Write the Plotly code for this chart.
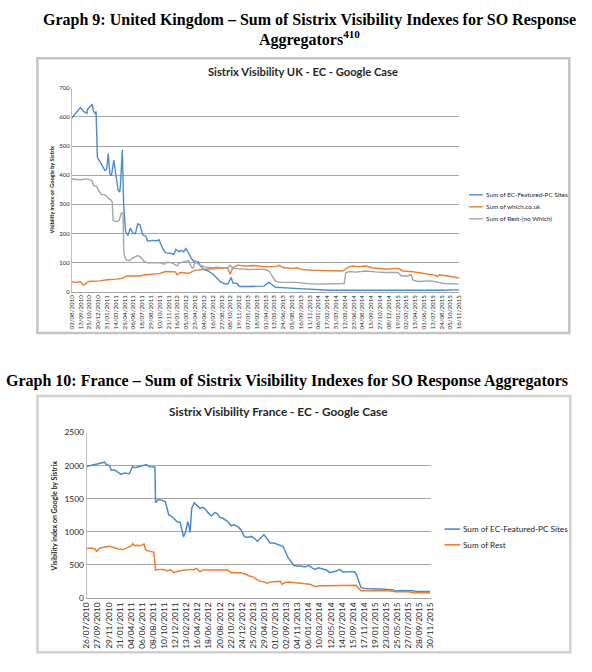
import plotly.graph_objects as go

W, H = 592, 672

# ---------------- data: United Kingdom ----------------
uk_tick_labels = ["02/08/2010", "13/09/2010", "25/10/2010", "20/12/2010", "31/01/2011", "14/03/2011",
                  "25/04/2011", "06/06/2011", "18/07/2011", "29/08/2011", "10/10/2011", "21/11/2011",
                  "16/01/2012", "05/03/2012", "23/04/2012", "04/06/2012", "16/07/2012", "27/08/2012",
                  "08/10/2012", "19/11/2012", "07/01/2013", "18/02/2013", "01/04/2013", "13/05/2013",
                  "24/06/2013", "05/08/2013", "16/09/2013", "11/11/2013", "06/01/2014", "17/02/2014",
                  "31/03/2014", "12/05/2014", "23/06/2014", "04/08/2014", "15/09/2014", "27/10/2014",
                  "08/12/2014", "19/01/2015", "02/03/2015", "13/04/2015", "01/06/2015", "13/07/2015",
                  "24/08/2015", "05/10/2015", "16/11/2015"]
uk_label_step = 6  # categories between labels

uk_ec_x = [0, 5.8, 8, 10.3, 10.7, 13, 13.9, 14.7, 15.9, 16.5, 17.4, 18.1, 20.3, 22.6, 23.7, 24.8, 25.9, 27,
           28.6, 29.9, 31.5, 32.6, 33.1, 34.4, 35.3, 36.6, 38.2, 39.8, 41.6, 43.3, 44.9, 46.5, 48.3, 50.5,
           51.6, 55, 58.3, 59.4, 61.7, 63.9, 67.2, 69.5, 71, 72.8, 74.6, 76.2, 77.7, 79.5, 81.8, 84, 86.2,
           87.3, 89.6, 92.9, 96.3, 99.6, 100.8, 103.7, 106.3, 108.6, 109.7, 112.6, 114.2, 122, 130.9, 134.3,
           136.5, 138.8, 148.8, 157.7, 166.7, 175.6, 190, 200, 210, 225, 240, 250, 264]
uk_ec_y = [596, 632, 619, 612, 626, 640, 643, 620, 612, 618, 462, 455, 438, 416, 420, 474, 404, 398, 452,
           410, 348, 342, 362, 487, 300, 207, 193, 218, 201, 199, 233, 229, 195, 190, 173, 176, 175, 178,
           150, 133, 132, 128, 145, 137, 141, 137, 148, 133, 111, 99, 103, 91, 77, 71, 60, 43, 35, 28, 26,
           49, 30, 28, 18, 18, 19, 32, 24, 15, 12, 10, 6, 5, 5, 6, 5, 5, 4, 5, 6]

uk_which_x = [0, 3.6, 5.8, 7.6, 9.2, 11.4, 19.2, 23.7, 30.4, 34.8, 37.1, 46, 50.5, 59.4, 63.9, 70.6, 71.7,
              73.9, 79.5, 84, 90.7, 99.6, 106.3, 107.9, 109.7, 113, 117.5, 124.2, 130.9, 139.8, 141, 144.3,
              151, 153.3, 157.7, 166.7, 177.8, 184.5, 189, 191.2, 195.7, 200.1, 204.6, 213.5, 222.4, 225.7,
              231.3, 240.3, 248.1, 249.2, 250.3, 258.1, 264]
uk_which_y = [34, 32, 34, 23, 26, 35, 37, 41, 43, 46, 54, 54, 58, 62, 69, 68, 58, 66, 63, 73, 77, 80, 82,
              60, 82, 91, 88, 90, 86, 86, 91, 82, 80, 82, 75, 73, 73, 71, 85, 88, 86, 88, 82, 77, 80, 71,
              69, 62, 56, 51, 58, 52, 47]

uk_rest_x = [0, 5.8, 10.3, 13.6, 14.7, 17, 18.1, 20.3, 22.6, 24.8, 26.4, 27.5, 28.1, 30.4, 32.2, 33.7, 34.8,
             35.5, 37.1, 39.3, 41.6, 44.9, 47.1, 49.4, 51.6, 55, 60.5, 62.8, 65, 68.4, 71.7, 72.8, 77.3,
             79.5, 81.8, 82.9, 84, 85.6, 87.3, 90.7, 95.2, 99.6, 104.1, 106.3, 107.9, 109.7, 113, 119.7,
             130.9, 134.3, 136.5, 138.8, 142.1, 153.3, 160, 166.7, 177.8, 185.6, 186.7, 189, 193.4, 200.1,
             206.8, 213.5, 222.4, 224.6, 229.1, 231.3, 232.4, 235.7, 244.8, 249.2, 253.7, 264]
uk_rest_y = [387, 384, 387, 382, 365, 361, 348, 333, 333, 320, 316, 308, 246, 240, 244, 269, 272, 128, 108,
             107, 116, 124, 118, 103, 99, 99, 99, 94, 101, 99, 88, 97, 105, 107, 82, 82, 108, 97, 91, 85,
             82, 84, 80, 82, 91, 80, 79, 76, 77, 71, 54, 35, 32, 32, 28, 26, 27, 28, 65, 69, 67, 71, 68,
             66, 66, 54, 54, 58, 40, 35, 37, 32, 28, 26]

# ---------------- data: France ----------------
fr_tick_labels = ["26/07/2010", "27/09/2010", "29/11/2010", "31/01/2011", "04/04/2011", "06/06/2011",
                  "08/08/2011", "10/10/2011", "12/12/2011", "13/02/2012", "16/04/2012", "18/06/2012",
                  "20/08/2012", "22/10/2012", "24/12/2012", "25/02/2013", "29/04/2013", "01/07/2013",
                  "02/09/2013", "04/11/2013", "06/01/2014", "10/03/2014", "12/05/2014", "14/07/2014",
                  "15/09/2014", "17/11/2014", "19/01/2015", "23/03/2015", "25/05/2015", "27/07/2015",
                  "28/09/2015", "30/11/2015"]
fr_label_step = 9

fr_ec_x = [0, 4, 6.7, 10.7, 13.3, 14.6, 16, 18.6, 20, 22.6, 25.3, 28, 30.6, 34.6, 37.3, 39.4, 43.9, 46.6,
           48.5, 50.6, 53.3, 55.4, 55.9, 58.1, 60.7, 62.6, 63.9, 66.6, 69.2, 71.4, 73.2, 75.9, 78.6, 80.4,
           82, 83.1, 83.9, 85.2, 87.3, 89.2, 91.9, 94.5, 96.4, 98.5, 101.2, 103.9, 106, 107.9, 110.5, 114.5,
           117.2, 119.8, 123, 125.2, 127.8, 130.5, 133.2, 135.8, 138.5, 141.1, 143.8, 146.5, 148.6, 151.8,
           155.8, 159.2, 161.1, 163, 165.1, 167.9, 170.4, 173.2, 177.2, 179.9, 182.5, 185.2, 187.9, 191.9,
           194.5, 197.2, 199.9, 202.6, 205.2, 207.9, 213.2, 217.2, 218.5, 219.9, 222.5, 225.2, 229.2, 234.5,
           242.5, 245.1, 247.8, 250.5, 255.8, 261.1, 265.1, 266.5, 271.8, 278.5]
fr_ec_y = [1987, 2002, 2017, 2027, 2037, 2052, 2017, 2002, 1927, 1937, 1902, 1867, 1887, 1877, 1987, 1967,
           1990, 2002, 2017, 1985, 1985, 1977, 1439, 1489, 1479, 1470, 1454, 1255, 1230, 1190, 1155, 1140,
           921, 1006, 1155, 1081, 991, 1355, 1439, 1404, 1355, 1370, 1340, 1290, 1240, 1290, 1275, 1220,
           1205, 1155, 1091, 1106, 1071, 1031, 931, 916, 931, 906, 857, 906, 956, 891, 832, 832, 807, 782,
           707, 622, 570, 493, 483, 483, 468, 493, 458, 433, 458, 443, 423, 383, 393, 408, 433, 393, 398,
           398, 368, 284, 159, 144, 144, 134, 134, 124, 130, 105, 115, 110, 112, 100, 105, 100]

fr_rest_x = [0, 4, 6.7, 8, 10.7, 16, 18.6, 21.3, 25.3, 29.3, 33.3, 36, 37.3, 38.6, 41.3, 43.1, 45.3, 46.6,
             47.9, 50.6, 52.7, 54.6, 55.9, 58.6, 62.6, 65.2, 67.9, 70.6, 74.6, 78.6, 81.2, 83.9, 86.5, 89.2,
             91.9, 94.5, 98.5, 103.9, 109.2, 114.5, 117.2, 119.8, 122.5, 125.2, 129.2, 131.8, 134.5, 137.1,
             139.8, 143.8, 146.5, 149.1, 154.5, 157.1, 158.4, 161.1, 163.8, 167.8, 173.2, 181.2, 185.2,
             189.2, 194.5, 199.9, 202.6, 207.9, 213.2, 218.5, 222.5, 234.5, 245.1, 250.5, 261.1, 266.5,
             271.8, 278.5]
fr_rest_y = [747, 757, 742, 707, 757, 772, 782, 767, 742, 732, 757, 782, 822, 792, 797, 790, 807, 817, 722,
             707, 697, 692, 423, 433, 433, 408, 430, 383, 408, 418, 423, 433, 428, 448, 398, 423, 423, 420,
             425, 425, 383, 383, 393, 383, 359, 334, 324, 294, 259, 244, 224, 244, 244, 254, 209, 234, 244,
             234, 224, 209, 174, 184, 184, 184, 194, 184, 194, 194, 110, 110, 110, 95, 95, 75, 85, 75]

# ---------------- styling ----------------
BLUE, ORANGE, GREY = "#4A8BD2", "#ED7D31", "#A5A5A5"
CHART_FONT = "Lato, 'Open Sans', sans-serif"
SERIF = "'Liberation Serif', 'Times New Roman', serif"
TXT = "#262626"


def xp(px):
    return px / W


def yp(py):
    return 1 - py / H


fig = go.Figure()

uk_series = [("Sum of EC-Featured-PC Sites", uk_ec_x, uk_ec_y, BLUE),
             ("Sum of which.co.uk", uk_which_x, uk_which_y, ORANGE),
             ("Sum of Rest-(no Which)", uk_rest_x, uk_rest_y, GREY)]
for name, xs, ys, col in uk_series:
    fig.add_trace(go.Scatter(x=xs, y=ys, name=name, mode="lines", xaxis="x", yaxis="y",
                             line=dict(color=col, width=1.4), showlegend=False))

fr_series = [("Sum of EC-Featured-PC Sites", fr_ec_x, fr_ec_y, BLUE),
             ("Sum of Rest", fr_rest_x, fr_rest_y, ORANGE)]
for name, xs, ys, col in fr_series:
    fig.add_trace(go.Scatter(x=xs, y=ys, name=name, mode="lines", xaxis="x2", yaxis="y2",
                             line=dict(color=col, width=1.5), showlegend=False))

GRID = "#A6A6A6"
common_x = dict(showgrid=False, zeroline=False, ticks="", showline=True, linecolor=GRID, linewidth=1,
                tickangle=-90, fixedrange=True)
common_y = dict(showgrid=True, gridcolor=GRID, gridwidth=1, zeroline=False, ticks="", showline=True,
                linecolor="#BFBFBF", linewidth=1, fixedrange=True)

fig.update_layout(
    width=W, height=H,
    margin=dict(l=0, r=0, t=0, b=0),
    paper_bgcolor="white", plot_bgcolor="white",
    font=dict(family=CHART_FONT, color=TXT),
    hovermode=False,
    xaxis=dict(common_x, domain=[xp(68), xp(462)], anchor="y", range=[0, (len(uk_tick_labels) - 1) * uk_label_step],
               tickmode="array", tickvals=[i * uk_label_step for i in range(len(uk_tick_labels))],
               ticktext=uk_tick_labels, tickfont=dict(size=6.2, family=CHART_FONT, color=TXT)),
    yaxis=dict(common_y, domain=[yp(291), yp(84)], anchor="x", range=[0, 700], dtick=100,
               tickfont=dict(size=6, family=CHART_FONT, color=TXT)),
    xaxis2=dict(common_x, domain=[xp(83), xp(433)], anchor="y2", range=[0, (len(fr_tick_labels) - 1) * fr_label_step],
                tickmode="array", tickvals=[i * fr_label_step for i in range(len(fr_tick_labels))],
                ticktext=fr_tick_labels, tickfont=dict(size=8.4, family=CHART_FONT, color=TXT)),
    yaxis2=dict(common_y, domain=[yp(602), yp(434)], anchor="x2", range=[0, 2500], dtick=500,
                tickfont=dict(size=8.4, family=CHART_FONT, color=TXT)),
)

shapes = [
    dict(type="rect", xref="paper", yref="paper", x0=xp(33), x1=xp(574), y0=yp(333), y1=yp(54),
         line=dict(color="#C4C4C4", width=2.5), layer="below"),
    dict(type="rect", xref="paper", yref="paper", x0=xp(33), x1=xp(575), y0=yp(657), y1=yp(397),
         line=dict(color="#D0D0D0", width=2.5), layer="below"),
]
annotations = []

# headings (document text)
annotations.append(dict(text="<b>Graph 9: United Kingdom – Sum of Sistrix Visibility Indexes for SO Response</b>",
                        x=xp(310), y=yp(15), xref="paper", yref="paper", showarrow=False,
                        xanchor="center", yanchor="middle", font=dict(family=SERIF, size=16, color="#000")))
annotations.append(dict(text="<b>Aggregators<sup>410</sup></b>",
                        x=xp(310), y=yp(34), xref="paper", yref="paper", showarrow=False,
                        xanchor="center", yanchor="middle", font=dict(family=SERIF, size=16, color="#000")))
annotations.append(dict(text="<b>Graph 10: France – Sum of Sistrix Visibility Indexes for SO Response Aggregators</b>",
                        x=xp(-1), y=yp(382), xref="paper", yref="paper", showarrow=False,
                        xanchor="left", yanchor="middle", font=dict(family=SERIF, size=16, color="#000")))

# chart titles
annotations.append(dict(text="<b>Sistrix Visibility UK - EC - Google Case</b>",
                        x=xp(303.5), y=yp(67), xref="paper", yref="paper", showarrow=False,
                        xanchor="center", yanchor="middle", font=dict(family=CHART_FONT, size=11.2, color=TXT)))
annotations.append(dict(text="<b>Sistrix Visibility France - EC - Google Case</b>",
                        x=xp(278), y=yp(413), xref="paper", yref="paper", showarrow=False,
                        xanchor="center", yanchor="middle", font=dict(family=CHART_FONT, size=11.8, color=TXT)))

# axis titles
annotations.append(dict(text="<b>Visibility index on Google by Sistrix</b>", textangle=-90,
                        x=xp(47), y=yp(188), xref="paper", yref="paper", showarrow=False,
                        xanchor="center", yanchor="middle", font=dict(family=CHART_FONT, size=5.6, color=TXT)))
annotations.append(dict(text="<b>Visibility index on Google by Sistrix</b>", textangle=-90,
                        x=xp(50), y=yp(519), xref="paper", yref="paper", showarrow=False,
                        xanchor="center", yanchor="middle", font=dict(family=CHART_FONT, size=7, color=TXT)))

# legends (line sample + label)
for i, (name, _, _, col) in enumerate(uk_series):
    yy = 192.7 + i * 12.2
    shapes.append(dict(type="line", xref="paper", yref="paper", x0=xp(472), x1=xp(486), y0=yp(yy), y1=yp(yy),
                       line=dict(color=col, width=1.4)))
    annotations.append(dict(text=name, x=xp(487), y=yp(yy), xref="paper", yref="paper", showarrow=False,
                            xanchor="left", yanchor="middle", font=dict(family=CHART_FONT, size=6.4, color=TXT)))
for i, (name, _, _, col) in enumerate(fr_series):
    yy = 532 + i * 16
    shapes.append(dict(type="line", xref="paper", yref="paper", x0=xp(447), x1=xp(463), y0=yp(yy), y1=yp(yy),
                       line=dict(color=col, width=1.6)))
    annotations.append(dict(text=name, x=xp(464), y=yp(yy), xref="paper", yref="paper", showarrow=False,
                            xanchor="left", yanchor="middle", font=dict(family=CHART_FONT, size=8.2, color=TXT)))

fig.update_layout(shapes=shapes, annotations=annotations)
fig.write_html("out.html", config={"displayModeBar": False, "staticPlot": True},
               post_script="document.body.style.margin='0px';")
